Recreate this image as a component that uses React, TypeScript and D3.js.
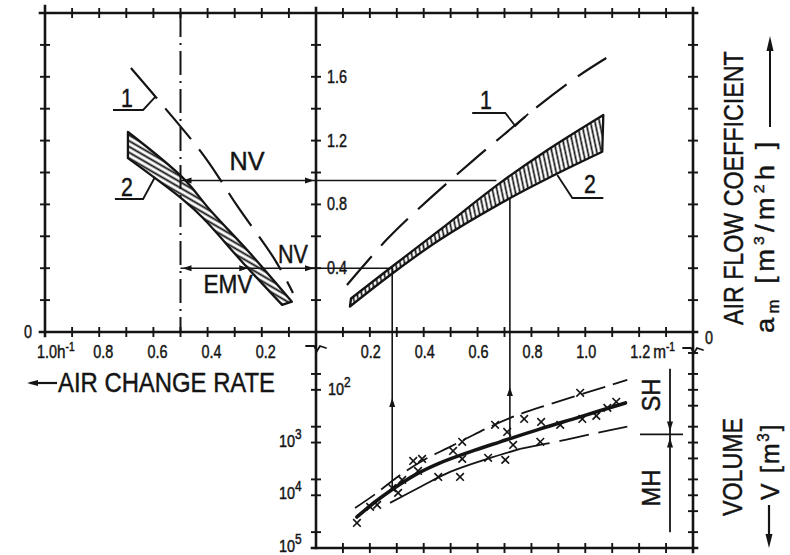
import React from "react";
import * as d3 from "d3";

// ---- data ----

// left panel: air change rate n [1/h] against air flow coefficient a_m
const nLabelVals = [1.0, 0.8, 0.6, 0.4, 0.2];
const nRef = 0.5; // dash-dot line

// curve 1 (dashed), left side  [n, a_m]
const leftCurve1: [number, number][] = [
  [0.683, 1.655], [0.557, 1.404], [0.41, 1.097], [0.288, 0.784], [0.151, 0.451], [0.085, 0.245],
];
// band 2 (hatched), left side
const leftBandUpper: [number, number][] = [
  [0.694, 1.254], [0.491, 0.966], [0.391, 0.765], [0.244, 0.495], [0.089, 0.19],
];
const leftBandLower: [number, number][] = [
  [0.694, 1.09], [0.491, 0.83], [0.417, 0.715], [0.269, 0.433], [0.125, 0.17],
];

// right panel: A/V [1/m] against air flow coefficient a_m
const mLabelVals = [0.2, 0.4, 0.6, 0.8, 1.0, 1.2];
const aLabelVals = [0.4, 0.8, 1.2, 1.6];

const rightCurve1: [number, number][] = [
  [0.115, 0.295], [0.268, 0.589], [0.417, 0.828], [0.585, 1.078], [0.696, 1.235],
  [0.807, 1.392], [0.97, 1.6], [1.078, 1.718],
];
const rightBandUpper: [number, number][] = [
  [0.13, 0.21], [0.29, 0.42], [0.46, 0.64], [0.68, 0.93], [0.85, 1.13], [1.067, 1.36],
];
const rightBandLower: [number, number][] = [
  [0.126, 0.16], [0.286, 0.37], [0.461, 0.58], [0.721, 0.84], [0.88, 0.98], [1.063, 1.13],
];

// lower panel: A/V [1/m] against building volume V [m3] (log, downwards)
const vLabelExp = [2, 3, 4, 5];
const vTicksLeft = [50, 100, 500, 1000, 5000, 10000, 50000];
const vTicksRight = [20, 50, 100, 200, 500, 1000, 2000, 5000, 10000, 20000, 50000];

const volMain: [number, number][] = [
  [0.152, 25800], [0.219, 13400], [0.275, 8280], [0.368, 4110], [0.461, 2430],
  [0.572, 1500], [0.684, 970], [0.833, 550], [0.981, 326], [1.149, 177],
];
const volUpper: [number, number][] = [
  [0.145, 17400], [0.22, 9500], [0.3, 4600], [0.4, 2140], [0.49, 1260], [0.56, 830],
  [0.647, 500], [0.758, 288], [0.87, 186], [1.019, 107], [1.156, 65],
];
const volLower: [number, number][] = [
  [0.275, 13960], [0.387, 6950], [0.498, 3610], [0.636, 2040], [0.758, 1318],
  [0.907, 929], [1.045, 655], [1.156, 501],
];
const volPoints: [number, number][] = [
  [0.152, 33500], [0.201, 16600], [0.227, 15200], [0.283, 7300], [0.305, 9000], [0.32, 5100],
  [0.361, 2230], [0.379, 3450], [0.394, 2040], [0.454, 4490], [0.509, 1440], [0.543, 970],
  [0.543, 2040], [0.535, 4490], [0.639, 1950], [0.665, 460], [0.703, 2130], [0.71, 630],
  [0.732, 1110], [0.773, 356], [0.833, 970], [0.836, 406], [0.907, 462], [0.981, 114],
  [0.989, 356], [1.041, 312], [1.082, 220], [1.115, 169],
];

// reading examples
const aHigh = 0.95, aLow = 0.4;
const mA = 0.283, mB = 0.72, mHighEnd = 0.67;
const vArrowA = 143, vArrowB = 88;
const volBoundary = 700, volTop = 40, volBottom = 50000;

// label leaders
const leader1L: [number, number][] = [[0.749, 1.392], [0.638, 1.392], [0.594, 1.473]];
const leader2L: [number, number][] = [[0.742, 0.834], [0.638, 0.834], [0.594, 0.972]];
const leader1R: [number, number][] = [[0.58, 1.373], [0.703, 1.373], [0.74, 1.292], [0.788, 1.368]];
const leader2R: [number, number][] = [[0.896, 0.984], [0.952, 0.84], [1.067, 0.84]];

// ---- scales ----
const W = 790, H = 555;
const xN = d3.scaleLinear().domain([1, 0]).range([45, 316]);
const xM = d3.scaleLinear().domain([0, 1.4]).range([316, 693]);
const yA = d3.scaleLinear().domain([0, 2]).range([332, 13]);
const yV = d3.scaleLog().domain([8, 1e5]).range([332, 548]);

const INK = "#141414";
const FONT = "'Liberation Sans', Arial, sans-serif";

const lineN = d3.line<[number, number]>().x(d => xN(d[0])).y(d => yA(d[1])).curve(d3.curveCatmullRom);
const lineM = d3.line<[number, number]>().x(d => xM(d[0])).y(d => yA(d[1])).curve(d3.curveCatmullRom);
const lineV = d3.line<[number, number]>().x(d => xM(d[0])).y(d => yV(d[1])).curve(d3.curveCatmullRom);
const polyN = d3.line<[number, number]>().x(d => xN(d[0])).y(d => yA(d[1]));
const polyM = d3.line<[number, number]>().x(d => xM(d[0])).y(d => yA(d[1]));

function bandPath(gen: any, upper: [number, number][], lower: [number, number][]) {
  const a: string = gen(upper);
  const b: string = gen([...lower].reverse());
  return a + "L" + b.slice(1) + "Z";
}

function interp(arr: [number, number][], x: number, log = false) {
  for (let i = 0; i < arr.length - 1; i++) {
    const [x0, y0] = arr[i], [x1, y1] = arr[i + 1];
    if (x >= x0 && x <= x1) {
      const t = (x - x0) / (x1 - x0);
      if (log) return Math.pow(10, Math.log10(y0) + t * (Math.log10(y1) - Math.log10(y0)));
      return y0 + t * (y1 - y0);
    }
  }
  return arr[arr.length - 1][1];
}

function Arrow({ x, y, dir, len = 9, w = 3 }: { x: number; y: number; dir: string; len?: number; w?: number }) {
  let pts = "";
  if (dir === "right") pts = `${x},${y} ${x - len},${y - w} ${x - len},${y + w}`;
  if (dir === "left") pts = `${x},${y} ${x + len},${y - w} ${x + len},${y + w}`;
  if (dir === "up") pts = `${x},${y} ${x - w},${y + len} ${x + w},${y + len}`;
  if (dir === "down") pts = `${x},${y} ${x - w},${y - len} ${x + w},${y - len}`;
  return <polygon points={pts} fill={INK} />;
}

function T(props: any) {
  const { x, y, size = 18, sx = 0.8, rot = 0, anchor = "middle", len, ls, children } = props;
  return (
    <text
      transform={`translate(${x},${y}) rotate(${rot}) scale(${len ? 1 : sx},1)`}
      fontSize={size}
      textAnchor={anchor}
      fontFamily={FONT}
      fill={INK}
      stroke={INK}
      strokeWidth={0.45}
      letterSpacing={ls}
      textLength={len}
      lengthAdjust={len ? "spacingAndGlyphs" : undefined}
    >
      {children}
    </text>
  );
}

const TK = 5;

export default function App() {
  const nTicks = d3.range(0, 11).map(i => i / 10);
  const mTicks = d3.range(1, 15).map(i => i / 10);
  const aTicks = d3.range(1, 11).map(i => i / 5);

  const xAleft = xN(nRef);
  const bTop = interp(rightBandLower, mB);
  const vEndA = interp(volMain, mA, true);
  const vEndB = interp(volMain, mB, true);

  const lowerSolid = volLower.filter(d => d[0] <= 0.76);
  const lowerDash = volLower.filter(d => d[0] >= 0.758);

  const brk = (x: number, y: number) =>
    `M${x - 10},${y} L${x - 2},${y} L${x + 1},${y + 5} L${x + 4},${y} L${x + 10},${y + 2}`;

  return (
    <svg width={W} height={H} style={{ position: "absolute", left: 0, top: 0, background: "#fff" }}>
      <defs>
        <pattern id="hatchL" patternUnits="userSpaceOnUse" width="10" height="5" patternTransform="rotate(30)">
          <line x1="0" y1="2.5" x2="10" y2="2.5" stroke={INK} strokeWidth="1.9" />
        </pattern>
        <pattern id="hatchR" patternUnits="userSpaceOnUse" width="10" height="4.4" patternTransform="rotate(78)">
          <line x1="0" y1="2.2" x2="10" y2="2.2" stroke={INK} strokeWidth="1.7" />
        </pattern>
      </defs>
      <rect width={W} height={H} fill="#fff" />

      {/* frame */}
      <g stroke={INK} strokeWidth={2.6} fill="none" strokeLinecap="square">
        <path d={`M40,${yA(2)} H697`} />
        <path d={`M40,${yA(0)} H697`} />
        <path d={`M${xN(1)},6 V336`} />
        <path d={`M${xM(0)},8 V${yV(1e5)}`} />
        <path d={`M${xM(1.4)},8 V552`} />
        <path d={`M312,${yV(1e5)} H697`} />
        <path d={brk(xM(0), 346)} strokeWidth={1.8} strokeLinecap="round" />
        <path d={brk(xM(1.4), 348)} strokeWidth={1.8} strokeLinecap="round" />
      </g>

      {/* ticks */}
      <g stroke={INK} strokeWidth={1.9}>
        {nTicks.map(v => (
          <g key={"n" + v}>
            <line x1={xN(v)} x2={xN(v)} y1={yA(2) - TK} y2={yA(2) + TK} />
            <line x1={xN(v)} x2={xN(v)} y1={yA(0) - TK} y2={yA(0) + TK} />
          </g>
        ))}
        {mTicks.map(v => (
          <g key={"m" + v}>
            <line x1={xM(v)} x2={xM(v)} y1={yA(2) - TK} y2={yA(2) + TK} />
            <line x1={xM(v)} x2={xM(v)} y1={yA(0) - TK} y2={yA(0) + TK} />
            <line x1={xM(v)} x2={xM(v)} y1={yV(1e5) - TK} y2={yV(1e5) + TK} />
          </g>
        ))}
        {aTicks.map(v => (
          <g key={"a" + v}>
            <line x1={xN(1) - TK} x2={xN(1) + TK} y1={yA(v)} y2={yA(v)} />
            <line x1={xM(0) - TK} x2={xM(0) + TK} y1={yA(v)} y2={yA(v)} />
            <line x1={xM(1.4) - TK} x2={xM(1.4) + TK} y1={yA(v)} y2={yA(v)} />
          </g>
        ))}
        {vTicksLeft.map(v => (
          <line key={"vl" + v} x1={xM(0) - TK} x2={xM(0) + TK} y1={yV(v)} y2={yV(v)} />
        ))}
        {vTicksRight.map(v => (
          <line key={"vr" + v} x1={xM(1.4) - TK} x2={xM(1.4) + TK} y1={yV(v)} y2={yV(v)} />
        ))}
      </g>

      {/* tick labels */}
      {nLabelVals.map(v => (
        <T key={"nl" + v} x={xN(v) + (v === 1 ? 2 : 4)} y={358}>{v.toFixed(1)}</T>
      ))}
      <T x={xN(1) + 12} y={358} anchor="start" sx={0.85}>
        h<tspan fontSize={12} dy={-7}>-1</tspan>
      </T>
      {mLabelVals.map(v => (
        <T key={"ml" + v} x={xM(v) + 1} y={358}>{v.toFixed(1)}</T>
      ))}
      <T x={xM(1.2) + 14} y={358} anchor="start" sx={0.85}>
        m<tspan fontSize={12} dy={-7}>-1</tspan>
      </T>
      {aLabelVals.map(v => (
        <T key={"al" + v} x={xM(0) + 11} y={yA(v) + 6} anchor="start">{v.toFixed(1)}</T>
      ))}
      <T x={28} y={338}>0</T>
      <T x={709} y={344}>0</T>
      {vLabelExp.map(e => {
        const inside = e === 2;
        return (
          <T key={"ve" + e} x={inside ? xM(0) + 12 : xM(0) - 37} y={yV(Math.pow(10, e)) + (inside ? 5 : 4)} anchor="start" size={17} sx={0.85}>
            10<tspan fontSize={14} dy={-8}>{e}</tspan>
          </T>
        );
      })}

      {/* left panel */}
      <line x1={xAleft} x2={xAleft} y1={yA(2)} y2={yA(0)} stroke={INK} strokeWidth={2} strokeDasharray="24 6 2 6" />
      <path d={bandPath(lineN, leftBandUpper, leftBandLower)} fill="url(#hatchL)" stroke={INK} strokeWidth={2.3} strokeLinejoin="round" />
      <path d={lineN(leftCurve1)!} fill="none" stroke={INK} strokeWidth={2.2} strokeDasharray="40 13" />
      <path d={polyN(leader1L)!} fill="none" stroke={INK} strokeWidth={1.8} />
      <path d={polyN(leader2L)!} fill="none" stroke={INK} strokeWidth={1.8} />
      <T x={127} y={107} size={25} sx={0.85}>1</T>
      <T x={127} y={196} size={25} sx={0.85}>2</T>

      {/* reading lines in the left panel */}
      <g stroke={INK} strokeWidth={1.6}>
        <line x1={xAleft} x2={xM(mHighEnd)} y1={yA(aHigh)} y2={yA(aHigh)} />
        <line x1={xAleft} x2={xM(mA)} y1={yA(aLow)} y2={yA(aLow)} />
      </g>
      <Arrow x={xAleft + 2} y={yA(aHigh)} dir="left" />
      <Arrow x={xM(0) - 2} y={yA(aHigh)} dir="right" />
      <Arrow x={xAleft + 2} y={yA(aLow)} dir="left" />
      <Arrow x={xN(0.25)} y={yA(aLow)} dir="right" />
      <Arrow x={xM(0) - 2} y={yA(aLow)} dir="right" />
      <T x={247} y={170} size={25} len={35}>NV</T>
      <T x={293} y={263} size={25} len={30}>NV</T>
      <T x={228} y={293} size={25} len={49}>EMV</T>

      {/* right panel */}
      <path d={bandPath(lineM, rightBandUpper, rightBandLower)} fill="url(#hatchR)" stroke={INK} strokeWidth={2.3} strokeLinejoin="round" />
      <path d={lineM(rightCurve1)!} fill="none" stroke={INK} strokeWidth={2.2} strokeDasharray="38 14" />
      <path d={polyM(leader1R)!} fill="none" stroke={INK} strokeWidth={1.8} />
      <path d={polyM(leader2R)!} fill="none" stroke={INK} strokeWidth={1.8} />
      <T x={486} y={109} size={25} sx={0.85}>1</T>
      <T x={590} y={193} size={25} sx={0.85}>2</T>

      {/* vertical reading lines */}
      <g stroke={INK} strokeWidth={1.6}>
        <line x1={xM(mA)} x2={xM(mA)} y1={yA(aLow)} y2={yV(vEndA)} />
        <line x1={xM(mB)} x2={xM(mB)} y1={yA(bTop)} y2={yV(vEndB)} />
      </g>
      <Arrow x={xM(mA)} y={yV(vArrowA)} dir="up" />
      <Arrow x={xM(mB)} y={yV(vArrowB)} dir="up" />

      {/* lower panel */}
      <path d={lineV(volUpper)!} fill="none" stroke={INK} strokeWidth={1.8} strokeDasharray="24 8" />
      <path d={lineV(lowerSolid)!} fill="none" stroke={INK} strokeWidth={1.8} />
      <path d={lineV(lowerDash)!} fill="none" stroke={INK} strokeWidth={1.8} strokeDasharray="30 10" />
      <path d={lineV(volMain)!} fill="none" stroke={INK} strokeWidth={3.6} strokeLinecap="round" />
      <g stroke={INK} strokeWidth={1.6}>
        {volPoints.map((d, i) => {
          const cx = xM(d[0]), cy = yV(d[1]), s = 3.8;
          return <path key={"p" + i} d={`M${cx - s},${cy - s}L${cx + s},${cy + s}M${cx - s},${cy + s}L${cx + s},${cy - s}`} />;
        })}
      </g>

      {/* SH / MH split */}
      <g stroke={INK} strokeWidth={1.8}>
        <line x1={670} x2={670} y1={yV(volTop)} y2={yV(volBottom)} />
        <line x1={640} x2={683} y1={yV(volBoundary)} y2={yV(volBoundary)} />
      </g>
      <Arrow x={670} y={yV(volBoundary) - 3} dir="down" len={10} w={3} />
      <Arrow x={670} y={yV(volBoundary) + 3} dir="up" len={10} w={3} />
      <T x={660} y={395} rot={-90} size={25} len={33}>SH</T>
      <T x={660} y={488} rot={-90} size={25} len={37}>MH</T>

      {/* axis titles */}
      <line x1={57} x2={30} y1={383} y2={383} stroke={INK} strokeWidth={2.2} />
      <Arrow x={27} y={383} dir="left" len={11} w={3} />
      <T x={58} y={392} size={28} anchor="start" len={217}>AIR CHANGE RATE</T>

      <T x={743} y={325} rot={-90} size={28} anchor="start" sx={0.83}>AIR FLOW COEFFICIENT</T>
      <T x={774} y={333} rot={-90} size={26} anchor="start" sx={1.05} ls={4}>
        a<tspan fontSize={16} dy={5}>m</tspan>
        <tspan dy={-5}> [m</tspan>
        <tspan fontSize={15} dy={-10}>3</tspan>
        <tspan dy={10}>/m</tspan>
        <tspan fontSize={15} dy={-10}>2</tspan>
        <tspan dy={10}>h ]</tspan>
      </T>
      <line x1={770} x2={770} y1={127} y2={50} stroke={INK} strokeWidth={2} />
      <Arrow x={770} y={36} dir="up" len={15} w={3.5} />

      <T x={742} y={516} rot={-90} size={28} anchor="start" len={98}>VOLUME</T>
      <T x={779} y={500} rot={-90} size={26} anchor="start" sx={0.95} ls={2}>
        V [m<tspan fontSize={16} dy={-10}>3</tspan><tspan dy={10}>]</tspan>
      </T>
      <line x1={769} x2={769} y1={505} y2={535} stroke={INK} strokeWidth={2.2} />
      <Arrow x={769} y={548} dir="down" len={14} w={3.5} />
    </svg>
  );
}
